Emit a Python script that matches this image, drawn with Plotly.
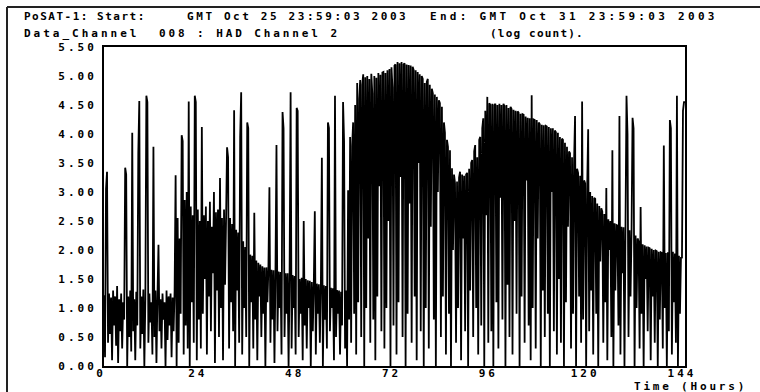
import plotly.graph_objects as go

# ---------------- data (log count, one value every 0.25 h) ----------------
STEP_HOURS = 0.25

day1 = [1.22, 0.15, 3.05, 3.35, 0.4, 1.25, 0.55, 1.18,
        0.1, 1.3, 0.7, 1.2, 0.35, 1.38, 0.05, 1.15,
        0.6, 1.25, 0.3, 1.1, 0.8, 3.42, 3.3, 0.0,
        1.2, 0.5, 1.3, 0.25, 4.02, 0.6, 1.15, 0.1,
        1.28, 0.7, 3.68, 4.57, 0.3, 1.2, 0.55, 1.32,
        0.0, 1.15, 4.66, 4.55, 0.4, 1.25, 0.75, 1.1,
        0.2, 3.78, 0.5, 1.3, 0.05, 1.2, 2.09, 0.6,
        1.15, 0.3, 1.25, 0.8, 1.1, 0.0, 1.3, 0.45,
        1.2, 0.7, 1.25, 0.15, 1.18, 0.6, 1.3, 3.29,
        0.0, 2.55, 0.4, 2.2, 0.9, 3.98, 3.88, 0.2,
        2.86, 0.7, 3.0, 0.3, 4.56, 0.0, 2.75, 1.1,
        2.6, 0.4, 4.66, 4.55, 0.1, 2.7, 0.8, 2.5]

day2 = [0.3, 4.12, 0.9, 2.6, 1.5, 2.75, 0.2, 2.5,
        1.2, 2.83, 0.6, 2.4, 1.6, 3.0, 0.05, 2.65,
        1.3, 2.7, 0.5, 3.24, 1.0, 2.55, 0.1, 2.7,
        1.4, 2.5, 3.77, 3.6, 0.3, 2.55, 1.1, 2.45,
        0.6, 4.41, 0.0, 2.35, 1.3, 2.3, 0.4, 3.95,
        4.72, 0.2, 2.15, 1.0, 2.05, 0.5, 4.2, 4.1,
        0.0, 1.92, 1.1, 1.9, 0.3, 2.64, 0.8, 1.82,
        0.1, 1.78, 1.2, 1.75, 0.5, 1.72, 0.9, 1.7,
        0.0, 1.7, 1.1, 1.68, 3.08, 0.4, 1.66, 0.8,
        1.65, 0.05, 1.64, 3.81, 0.6, 1.63, 1.0, 1.62,
        0.2, 4.38, 4.1, 0.5, 1.6, 0.9, 1.6, 0.0,
        1.58, 4.72, 0.3, 1.57, 1.0, 1.55, 0.2, 4.45]

day3 = [4.4, 0.5, 1.5, 0.9, 1.52, 0.1, 2.5, 0.7,
        1.5, 0.3, 1.48, 1.0, 1.47, 0.0, 1.45, 0.6,
        1.43, 2.67, 0.2, 1.42, 0.9, 1.41, 0.4, 1.4,
        3.59, 0.0, 1.39, 0.8, 1.38, 0.3, 4.2, 4.1,
        0.6, 1.35, 1.0, 1.34, 0.1, 4.66, 0.5, 1.31,
        0.9, 1.3, 0.2, 1.28, 0.7, 4.55, 3.88, 0.3,
        1.3, 0.0, 3.03, 0.8, 3.95, 0.4, 3.8, 4.2,
        0.9, 4.5, 0.2, 4.88, 1.1, 4.6, 4.93, 0.5,
        4.85, 5.03, 0.0, 4.98, 1.0, 5.0, 2.2, 4.95,
        0.4, 5.04, 4.7, 0.8, 5.0, 0.1, 4.97, 1.2,
        5.05, 3.1, 5.02, 0.6, 5.06, 5.07, 0.3, 5.05,
        1.0, 5.1, 2.5, 5.12, 0.0, 5.15, 4.8, 0.7]

day4 = [5.18, 5.2, 0.2, 5.24, 1.1, 5.22, 3.26, 5.24,
        0.5, 5.2, 5.22, 0.0, 5.2, 0.9, 5.19, 2.8,
        5.18, 0.4, 5.16, 5.1, 1.2, 5.1, 0.1, 5.07,
        3.5, 5.03, 0.6, 5.0, 4.95, 0.0, 4.88, 1.0,
        4.9, 4.95, 0.3, 4.85, 2.4, 4.78, 4.7, 0.8,
        4.68, 0.0, 4.64, 3.0, 4.58, 4.53, 0.5, 4.47,
        1.2, 4.2, 4.02, 0.2, 3.9, 3.78, 0.9, 3.72,
        0.0, 3.41, 2.0, 3.3, 3.15, 0.4, 3.18, 1.0,
        3.25, 3.35, 0.1, 3.3, 2.2, 3.28, 0.6, 3.3,
        3.33, 0.0, 3.4, 1.3, 3.5, 3.55, 0.5, 3.7,
        3.81, 1.0, 3.6, 0.2, 3.9, 3.95, 0.7, 4.1,
        4.27, 0.0, 4.4, 2.6, 4.64, 0.4, 4.53, 4.5]

day5 = [0.6, 4.52, 0.0, 4.5, 4.52, 1.1, 4.5, 0.3,
        4.52, 2.9, 4.5, 0.8, 4.52, 4.48, 0.0, 4.5,
        1.4, 4.45, 0.5, 4.47, 4.43, 0.2, 4.42, 2.5,
        4.4, 0.9, 4.39, 4.37, 0.0, 4.35, 1.2, 4.34,
        4.33, 0.4, 4.3, 3.2, 4.28, 0.7, 4.27, 0.1,
        4.67, 1.0, 4.25, 4.24, 0.3, 4.24, 2.2, 4.2,
        4.17, 0.0, 4.16, 1.3, 4.15, 0.5, 4.14, 4.13,
        0.9, 4.12, 0.0, 4.1, 3.0, 4.1, 0.6, 4.06,
        4.03, 0.2, 4.02, 1.5, 3.95, 0.4, 3.92, 3.9,
        0.0, 3.85, 1.1, 3.78, 2.4, 3.7, 3.67, 0.3,
        3.6, 0.9, 3.5, 4.31, 0.0, 3.4, 3.33, 1.2,
        3.28, 0.4, 4.56, 0.8, 3.2, 3.15, 0.0, 3.05]

day6 = [4.08, 0.6, 3.0, 1.3, 2.93, 0.2, 2.9, 2.88,
        0.9, 2.8, 0.0, 2.76, 1.8, 2.72, 2.66, 0.4,
        2.62, 1.1, 3.07, 0.1, 2.53, 2.0, 2.5, 0.5,
        3.72, 0.0, 2.46, 1.3, 2.43, 2.42, 0.7, 4.31,
        0.2, 2.4, 1.6, 2.39, 0.0, 2.38, 4.66, 4.0,
        0.5, 2.34, 1.2, 2.3, 4.28, 4.1, 0.0, 2.25,
        1.0, 2.2, 2.15, 0.3, 2.74, 0.9, 2.1, 0.0,
        2.08, 1.5, 2.06, 0.6, 2.04, 2.03, 0.1, 2.02,
        1.2, 2.0, 0.4, 1.99, 1.98, 0.0, 1.97, 0.8,
        1.96, 1.95, 0.3, 3.8, 1.0, 1.95, 0.0, 1.96,
        0.6, 4.24, 4.1, 0.2, 1.97, 1.1, 1.94, 0.4,
        4.66, 0.0, 1.9, 0.9, 1.88, 1.86, 4.4, 4.55,
        4.55]

x_ticks = [0, 24, 48, 72, 96, 120, 144]
x_tick_labels = ["0", "24", "48", "72", "96", "120", "144"]
y_ticks = [0.0, 0.5, 1.0, 1.5, 2.0, 2.5, 3.0, 3.5, 4.0, 4.5, 5.0, 5.5]
y_tick_labels = ["0.00", "0.50", "1.00", "1.50", "2.00", "2.50",
                 "3.00", "3.50", "4.00", "4.50", "5.00", "5.50"]

values = day1 + day2 + day3 + day4 + day5 + day6
hours = [i * STEP_HOURS for i in range(len(values))]

# ---------------- layout helpers ----------------
W, H = 760, 392
PL, PR, PT, PB = 104, 685, 47, 366
FONT = "DejaVu Sans Mono"


def fx(px):
    return (px - PL) / (PR - PL)


def fy(py):
    return (PB - py) / (PB - PT)


def spaced(txt, ls):
    return f'<span style="letter-spacing:{ls}px">{txt}</span>'


fig = go.Figure()
fig.add_trace(go.Scatter(
    x=hours, y=values, mode="lines",
    line=dict(color="black", width=1.8, simplify=False),
    hoverinfo="skip", showlegend=False,
))

tick_font = dict(family=FONT, size=11, color="black", weight="bold")

fig.update_layout(
    width=W, height=H,
    margin=dict(l=PL, r=W - PR, t=PT, b=H - PB, pad=0),
    paper_bgcolor="white", plot_bgcolor="white",
    showlegend=False,
    font=dict(family=FONT, size=11, color="black", weight="bold"),
    xaxis=dict(
        range=[0, 144], tickvals=x_ticks,
        ticktext=[spaced(t, 3) for t in x_tick_labels],
        showgrid=False, zeroline=False, ticks="",
        showline=True, linecolor="black", linewidth=2, mirror=True,
        tickfont=tick_font, ticklabelshift=-3, ticklabelstandoff=-4,
        automargin=False,
    ),
    yaxis=dict(
        range=[0, 5.5], tickvals=y_ticks,
        ticktext=[spaced(t, 3) for t in y_tick_labels],
        showgrid=False, zeroline=False, ticks="",
        showline=True, linecolor="black", linewidth=2, mirror=True,
        tickfont=tick_font, ticklabelstandoff=3,
        automargin=False,
    ),
)

texts = [
    ("PoSAT-1: Start:", 22, 16.5, 1.5),
    ("GMT Oct 25 23:59:03 2003", 185, 16.5, 2.6),
    ("End: GMT Oct 31 23:59:03 2003", 428, 16.5, 3.3),
    ("Data_Channel", 22, 33.5, 3.0),
    ("008 : HAD Channel 2", 157, 33.5, 2.9),
    ("(log count).", 488, 33.5, 1.2),
    ("Time (Hours)", 632, 386.5, 2.8),
]
for txt, px, py, ls in texts:
    fig.add_annotation(
        text=spaced(txt, ls), xref="paper", yref="paper",
        x=fx(px), y=fy(py), xanchor="left", yanchor="middle",
        showarrow=False, font=dict(family=FONT, size=11, color="black", weight="bold"),
    )

# outer window frame (left and top edges)
fig.add_shape(type="line", xref="paper", yref="paper",
              x0=fx(7), y0=fy(7), x1=fx(W + 5), y1=fy(7),
              line=dict(color="#222222", width=2))
fig.add_shape(type="line", xref="paper", yref="paper",
              x0=fx(7), y0=fy(7), x1=fx(7), y1=fy(H + 5),
              line=dict(color="#222222", width=2))

fig.write_html(
    "out.html",
    config={"displayModeBar": False},
    post_script="document.body.style.margin='0';document.body.style.overflow='hidden';",
)
